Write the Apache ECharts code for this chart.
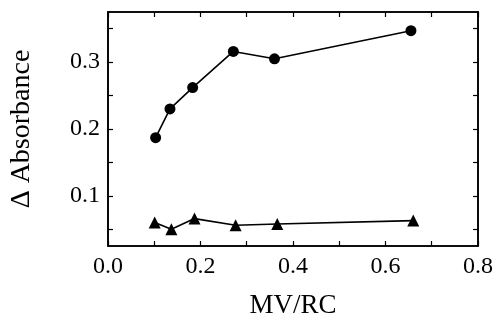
<!DOCTYPE html>
<html><head><meta charset="utf-8">
<script src="https://cdn.jsdelivr.net/npm/echarts@6/dist/echarts.min.js"></script>
<style>html,body{margin:0;padding:0;background:#fff}#c{width:500px;height:326px}</style>
</head><body><div id="c"></div>
<script>
var circleX = [0.103, 0.134, 0.183, 0.271, 0.360, 0.655];
var circleY = [0.187, 0.230, 0.262, 0.316, 0.305, 0.347];
var triX = [0.101, 0.137, 0.187, 0.276, 0.366, 0.660];
var triY = [0.060, 0.050, 0.066, 0.056, 0.058, 0.063];
var yLabelValues = [0.1, 0.2, 0.3];
var yTickValues = [0.05, 0.1, 0.15, 0.2, 0.25, 0.3, 0.35];
var xTickValues = [0, 0.1, 0.2, 0.3, 0.4, 0.5, 0.6, 0.7, 0.8];
var xLabelValues = [0, 0.2, 0.4, 0.6, 0.8];
var xTitle = 'MV/RC';
var yTitle = '\u0394 Absorbance';

var font = 'Liberation Serif, Times New Roman, serif';
function pair(xs, ys){ return xs.map(function(x,i){return [x, ys[i]];}); }
var axLine = {show:true, onZero:false, lineStyle:{color:'#000', width:1.6}};
function xAx(pos, labels){
  return {type:'value', position:pos, min:0, max:0.8,
    axisLine:axLine, splitLine:{show:false},
    axisTick:{show:true, inside:true, length:5, customValues:xTickValues, lineStyle:{color:'#000',width:1.2}},
    axisLabel:{show:labels, customValues:xLabelValues, color:'#000', fontFamily:font, fontSize:24, margin:9,
      formatter:function(v){return v.toFixed(1);}},
    name: labels ? xTitle : '', nameLocation:'middle', nameGap:46,
    nameTextStyle:{color:'#000', fontFamily:font, fontSize:27}};
}
function yAx(pos, labels){
  return {type:'value', position:pos, min:0.025, max:0.375,
    axisLine:axLine, splitLine:{show:false},
    axisTick:{show:true, inside:true, length:5, customValues:yTickValues, lineStyle:{color:'#000',width:1.2}},
    axisLabel:{show:labels, customValues:yLabelValues, color:'#000', fontFamily:font, fontSize:24, margin:8,
      formatter:function(v){return v.toFixed(1);}},
    name: labels ? yTitle : '', nameLocation:'middle', nameGap:72,
    nameTextStyle:{color:'#000', fontFamily:font, fontSize:28}};
}
var chart = echarts.init(document.getElementById('c'), null, {renderer:'canvas'});
chart.setOption({
  animation:false,
  backgroundColor:'#fff',
  grid:{left:107, right:22, top:12, bottom:80, containLabel:false, show:true, borderColor:'#000', borderWidth:1.6, backgroundColor:'transparent'},
  xAxis:[xAx('bottom', true), xAx('top', false)],
  yAxis:[yAx('left', true), yAx('right', false)],
  series:[
    {type:'line', data:pair(circleX, circleY), symbol:'circle', symbolSize:11,
      lineStyle:{color:'#000', width:1.6}, itemStyle:{color:'#000'}},
    {type:'line', data:pair(triX, triY), symbol:'triangle', symbolSize:12,
      lineStyle:{color:'#000', width:1.6}, itemStyle:{color:'#000'}},
    {type:'line', xAxisIndex:1, yAxisIndex:1, data:[], silent:true}
  ]
});
</script></body></html>
